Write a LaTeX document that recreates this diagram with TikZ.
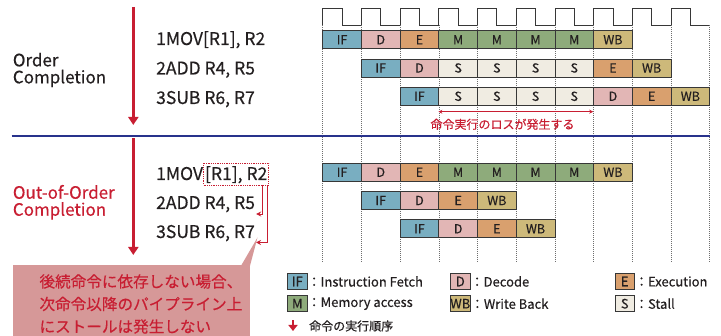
\documentclass[tikz,border=0pt]{standalone}
\usepackage{fontspec}
\setmainfont{Noto Sans CJK JP}[FakeBold=0.4]
\usetikzlibrary{arrows.meta}

\definecolor{cIF}{RGB}{121,174,193}
\definecolor{cD}{RGB}{226,182,181}
\definecolor{cE}{RGB}{217,160,110}
\definecolor{cM}{RGB}{142,171,123}
\definecolor{cWB}{RGB}{205,185,122}
\definecolor{cS}{RGB}{240,236,226}
\definecolor{accent}{RGB}{200,30,50}
\definecolor{navy}{RGB}{40,50,140}
\definecolor{callout}{RGB}{214,152,152}
\definecolor{edge}{RGB}{55,55,55}
\definecolor{ink}{RGB}{35,31,32}
\definecolor{grid}{RGB}{110,110,110}

\tikzset{
  stage/.style={draw=edge, line width=0.8pt, minimum width=38.7pt, minimum height=18pt,
    inner sep=0pt, font=\fontsize{12.5}{12.5}\selectfont, text=ink},
  legbox/.style={draw=edge, line width=0.8pt, minimum width=19.5pt, minimum height=16pt,
    inner sep=0pt, font=\fontsize{13}{13}\selectfont, text=ink},
  legtext/.style={anchor=west, inner sep=0pt, font=\fontsize{13}{13}\selectfont, text=ink},
  instr/.style={anchor=base west, inner sep=0pt, font=\fontsize{17.5}{17.5}\selectfont, text=ink},
  heading/.style={anchor=west, inner sep=0pt, align=left, font=\fontsize{17}{17}\selectfont},
  order/.style={draw=accent, line width=2.4pt, -{Triangle[width=10pt,length=8pt]}},
  depend/.style={draw=accent, line width=0.9pt, -{Stealth[length=5pt,width=5pt]}},
  gridline/.style={draw=grid, line width=0.6pt, dash pattern=on 1pt off 1pt},
}

% one row of pipeline stages: name, first column, row centre, stage list
\newcommand\pipeRow[4]{%
  \foreach \lab [count=\i from 0] in {#4} {%
    \node[stage, fill=c\lab] (#1-\i) at ({322.7+38.7*(#2+\i+0.5)}, #3) {\lab};
  }%
}

\begin{document}
\begin{tikzpicture}[x=1pt, y=-1pt]
\useasboundingbox (0,0) rectangle (721,336);

% clock and cycle grid
\foreach \k in {0,...,9} {
  \draw[edge, line width=0.8pt] ({322.7+38.7*\k},25) -- ({322.7+38.7*\k},8.5)
    -- ({322.7+38.7*\k+19.35},8.5) -- ({322.7+38.7*\k+19.35},25) -- ({322.7+38.7*(\k+1)},25);
}
\foreach \k in {0,...,10} {
  \draw[gridline] ({322.7+38.7*\k},25) -- ({322.7+38.7*\k},262);
}

% separator between the two cases
\draw[navy, line width=1.6pt] (11.7,136) -- (709.7,136);

% in-order completion
\node[heading, text=ink] (hOrder) at (12.7,70) {Order\\Completion};
\coordinate (o1s) at (133.3,7);
\coordinate (o1e) at (133.3,125);
\draw[order] (o1s) -- (o1e);
\node[instr] (i1) at (156,45) {1MOV[R1], R2};
\node[instr] (i2) at (156,74.5) {2ADD R4, R5};
\node[instr] (i3) at (156,104) {3SUB R6, R7};

\pipeRow{ta}{0}{39.7}{IF,D,E,M,M,M,M,WB}
\pipeRow{tb}{1}{68}{IF,D,S,S,S,S,E,WB}
\pipeRow{tc}{2}{96.3}{IF,S,S,S,S,D,E,WB}

\coordinate (lossA) at ([yshift=-6pt]tc-1.south west);
\coordinate (lossB) at ([yshift=-6pt]tc-5.south west);
\draw[accent, line width=0.8pt, {Stealth[length=4pt,width=4pt]}-{Stealth[length=4pt,width=4pt]}] (lossA) -- (lossB);
\node[text=accent, inner sep=0pt, font=\fontsize{12}{12}\selectfont] (loss) at (502.5,124.3) {命令実行のロスが発生する};

% out-of-order completion
\node[heading, text=accent] (hOoo) at (12.7,202.3) {Out-of-Order\\Completion};
\coordinate (o2s) at (133.3,138.5);
\coordinate (o2e) at (133.3,255);
\draw[order] (o2s) -- (o2e);
\node[instr] (j1) at (156,180) {1MOV};
\node[instr, draw=accent, line width=0.8pt, dash pattern=on 0.9pt off 0.9pt,
      inner xsep=1.5pt, inner ysep=0pt, text height=17pt, text depth=5pt] (dep) at (j1.base east) {[R1], R2};
\node[instr] (j2) at (156,209) {2ADD R4, R5};
\node[instr] (j3) at (156,238) {3SUB R6, R7};
\draw[depend] ([xshift=-7pt]dep.south east) |- ([xshift=1pt,yshift=-5pt]j2.base east);
\draw[depend] ([xshift=-1.5pt]dep.south east) |- ([xshift=1pt,yshift=-4.5pt]j3.base east);

\pipeRow{ba}{0}{172.2}{IF,D,E,M,M,M,M,WB}
\pipeRow{bb}{1}{200.5}{IF,D,E,WB}
\pipeRow{bc}{2}{228.8}{IF,D,E,WB}

% callout
\fill[callout] (12.7,265.5) rectangle (250,336);
\fill[callout] (241,265.8) -- (257.5,237.5) -- (250,265.8) -- cycle;
\node[anchor=west, inner sep=0pt, align=left, text=accent,
      font=\fontsize{15.6}{22.5}\selectfont] (note) at (39.3,304)
  {後続命令に依存しない場合、\\次命令以降のパイプライン上\\にストールは発生しない};

% legend
\node[legbox, fill=cIF] (lgIF) at (297.3,281.5) {IF};
\node[legtext] (ltIF) at (lgIF.east) {：Instruction Fetch};
\node[legbox, fill=cD] (lgD) at (460.3,281.5) {D};
\node[legtext] (ltD) at (lgD.east) {：Decode};
\node[legbox, fill=cE] (lgE) at (624.7,281.5) {E};
\node[legtext] (ltE) at (lgE.east) {：Execution};
\node[legbox, fill=cM] (lgM) at (297.3,303.7) {M};
\node[legtext] (ltM) at (lgM.east) {：Memory access};
\node[legbox, fill=cWB] (lgWB) at (460.3,303.7) {WB};
\node[legtext] (ltWB) at (lgWB.east) {：Write Back};
\node[legbox, fill=cS] (lgS) at (624.7,303.7) {S};
\node[legtext] (ltS) at (lgS.east) {：Stall};
\coordinate (lgA1) at (293,320.5);
\coordinate (lgA2) at (293,331);
\draw[accent, line width=2.2pt, -{Triangle[width=9pt,length=6pt]}] (lgA1) -- (lgA2);
\node[legtext, font=\fontsize{12}{12}\selectfont] (ltOrd) at (309,326) {命令の実行順序};
\end{tikzpicture}
\end{document}
